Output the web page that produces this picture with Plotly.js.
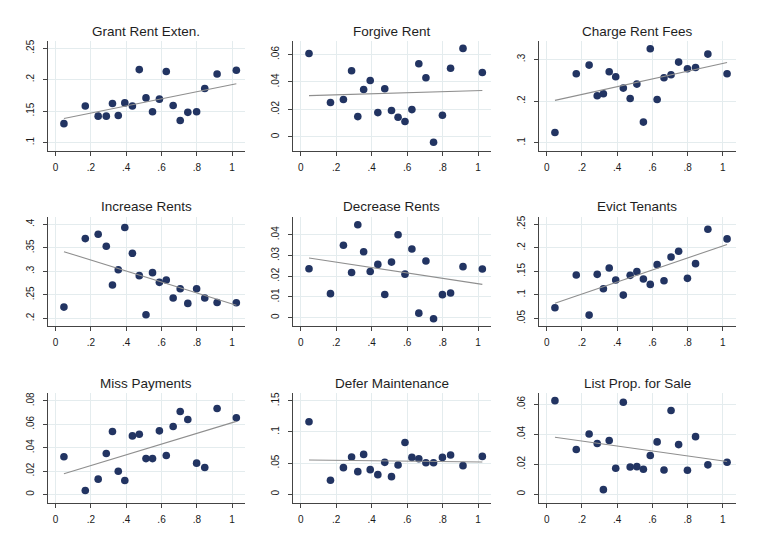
<!DOCTYPE html>
<html>
<head>
<meta charset="utf-8">
<script src="https://cdn.plot.ly/plotly-3.0.1.min.js"></script>
<style>
html,body{margin:0;padding:0;background:#fff;}
#chart{width:762px;height:539px;}
</style>
</head>
<body>
<div id="chart"></div>
<script>
// Shared x values (same for every panel)
const xShare = [0.047,0.168,0.241,0.287,0.322,0.355,0.392,0.435,0.474,0.512,0.549,0.588,0.627,0.666,0.706,0.749,0.799,0.845,0.915,1.024];

// Panel titles
const panelTitles = ["Grant Rent Exten.","Forgive Rent","Charge Rent Fees","Increase Rents","Decrease Rents","Evict Tenants","Miss Payments","Defer Maintenance","List Prop. for Sale"];

// Series values
const grantRentExten   = [0.130,0.158,0.142,0.142,0.162,0.143,0.163,0.158,0.216,0.171,0.149,0.169,0.213,0.159,0.135,0.148,0.149,0.186,0.209,0.215];
const forgiveRent      = [0.0607,0.025,0.0272,0.0481,0.0148,0.0345,0.0411,0.0177,0.035,0.0192,0.0143,0.0112,0.0199,0.0532,0.043,-0.0039,0.0158,0.050,0.0644,0.0469];
const chargeRentFees   = [0.1248,0.2656,0.2864,0.2128,0.2176,0.2704,0.2584,0.2312,0.2064,0.2408,0.1496,0.3256,0.204,0.256,0.2632,0.2936,0.2776,0.2808,0.3128,0.2656];
const increaseRents    = [0.2241,0.3695,0.3787,0.3532,0.2709,0.3035,0.3929,0.3383,0.2908,0.2078,0.2972,0.2766,0.2816,0.2433,0.2631,0.2319,0.2631,0.2433,0.234,0.2333];
const decreaseRents    = [0.0236,0.0116,0.0349,0.0218,0.0448,0.0318,0.0223,0.0257,0.0112,0.0268,0.040,0.021,0.0331,0.0022,0.0273,-0.0005,0.0111,0.0119,0.0246,0.0235];
const evictTenants     = [0.0727,0.1422,0.0571,0.1436,0.1131,0.1571,0.1316,0.0996,0.1415,0.1493,0.1337,0.1223,0.1642,0.1301,0.1805,0.1926,0.1351,0.1663,0.2394,0.2188];
const missPayments     = [0.0322,0.0034,0.0131,0.035,0.0538,0.0199,0.012,0.0501,0.0515,0.0307,0.0307,0.0544,0.0333,0.0581,0.0709,0.0641,0.0268,0.0231,0.0735,0.0655];
const deferMaintenance = [0.1163,0.0224,0.0427,0.0598,0.0363,0.064,0.0395,0.0315,0.0512,0.0283,0.047,0.0832,0.0592,0.0571,0.0507,0.0507,0.0592,0.063,0.0459,0.0608];
const listPropForSale  = [0.0624,0.0298,0.0402,0.0338,0.0031,0.0358,0.0173,0.0613,0.0182,0.0184,0.0167,0.0258,0.0349,0.0162,0.0558,0.0331,0.016,0.0384,0.0196,0.0213];

// Tick labels
const xTickVals = [0,0.2,0.4,0.6,0.8,1];
const xTickText = ["0",".2",".4",".6",".8","1"];
const yTickVals1 = [0.1,0.15,0.2,0.25];   const yTickText1 = [".1",".15",".2",".25"];
const yTickVals2 = [0,0.02,0.04,0.06];    const yTickText2 = ["0",".02",".04",".06"];
const yTickVals3 = [0.1,0.2,0.3];         const yTickText3 = [".1",".2",".3"];
const yTickVals4 = [0.2,0.25,0.3,0.35,0.4]; const yTickText4 = [".2",".25",".3",".35",".4"];
const yTickVals5 = [0,0.01,0.02,0.03,0.04]; const yTickText5 = ["0",".01",".02",".03",".04"];
const yTickVals6 = [0.05,0.1,0.15,0.2,0.25]; const yTickText6 = [".05",".1",".15",".2",".25"];
const yTickVals7 = [0,0.02,0.04,0.06,0.08]; const yTickText7 = ["0",".02",".04",".06",".08"];
const yTickVals8 = [0,0.05,0.1,0.15];     const yTickText8 = ["0",".05",".1",".15"];
const yTickVals9 = [0,0.02,0.04,0.06];    const yTickText9 = ["0",".02",".04",".06"];

const series = [grantRentExten,forgiveRent,chargeRentFees,increaseRents,decreaseRents,evictTenants,missPayments,deferMaintenance,listPropForSale];
const yTicks = [[yTickVals1,yTickText1],[yTickVals2,yTickText2],[yTickVals3,yTickText3],[yTickVals4,yTickText4],[yTickVals5,yTickText5],[yTickVals6,yTickText6],[yTickVals7,yTickText7],[yTickVals8,yTickText8],[yTickVals9,yTickText9]];

// Layout (style only)
const yRanges = [[0.087,0.262],[-0.010,0.070],[0.081,0.345],[0.184,0.416],[-0.004,0.0487],[0.034,0.266],[-0.007,0.087],[-0.0135,0.163],[-0.0056,0.0677]];
const colDomains = [[0.0626,0.3215],[0.3841,0.6444],[0.707,0.9655]];
const rowDomains = [[0.7204,0.9245],[0.3952,0.598],[0.0674,0.2714]];
const titleY = [1-31.7/539, 1-206.7/539, 1-383.3/539];

function ols(x,y){
  const n=x.length; let mx=0,my=0;
  for(let i=0;i<n;i++){mx+=x[i];my+=y[i];}
  mx/=n; my/=n;
  let sxy=0,sxx=0;
  for(let i=0;i<n;i++){sxy+=(x[i]-mx)*(y[i]-my);sxx+=(x[i]-mx)*(x[i]-mx);}
  const b=sxy/sxx; return [my-b*mx,b];
}

const data=[]; const layout={
  width:762,height:539,margin:{l:0,r:0,t:0,b:0},
  paper_bgcolor:"#ffffff",plot_bgcolor:"#ffffff",showlegend:false,
  font:{family:"Liberation Sans, Arial, sans-serif",color:"#222"},
  annotations:[]
};
const xmin=Math.min(...xShare), xmax=Math.max(...xShare);
for(let k=0;k<9;k++){
  const r=Math.floor(k/3), c=k%3, s=(k===0?"":String(k+1));
  const ys=series[k];
  data.push({x:xShare,y:ys,type:"scatter",mode:"markers",xaxis:"x"+s,yaxis:"y"+s,
    marker:{color:"#223462",size:7.6,line:{width:0}},hoverinfo:"skip",cliponaxis:false});
  const [a,b]=ols(xShare,ys);
  data.push({x:[xmin,xmax],y:[a+b*xmin,a+b*xmax],type:"scatter",mode:"lines",xaxis:"x"+s,yaxis:"y"+s,
    line:{color:"#8f8f8f",width:1.1},hoverinfo:"skip"});
  layout["xaxis"+s]={domain:colDomains[c],anchor:"y"+s,range:[-0.045,1.073],
    tickvals:xTickVals,ticktext:xTickText,showgrid:true,gridcolor:"#e4ecee",gridwidth:1,zeroline:false,
    showline:true,linecolor:"#444",linewidth:1,ticks:"outside",ticklen:4,tickcolor:"#444",
    ticklabelstandoff:3,
    tickfont:{size:10,color:"#1a1a1a"},fixedrange:true};
  layout["yaxis"+s]={domain:rowDomains[r],anchor:"x"+s,range:yRanges[k],
    tickvals:yTicks[k][0],ticktext:yTicks[k][1],tickangle:-90,showgrid:true,gridcolor:"#e4ecee",gridwidth:1,zeroline:false,
    showline:true,linecolor:"#444",linewidth:1,ticks:"outside",ticklen:4,tickcolor:"#444",
    ticklabelstandoff:5,
    tickfont:{size:10,color:"#1a1a1a"},fixedrange:true};
  layout.annotations.push({text:panelTitles[k],xref:"paper",yref:"paper",
    x:(colDomains[c][0]+colDomains[c][1])/2,y:titleY[r],xanchor:"center",yanchor:"middle",
    showarrow:false,font:{size:13.5,color:"#1e1e1e",family:"Liberation Sans, Arial, sans-serif"}});
}
Plotly.newPlot("chart",data,layout,{displayModeBar:false,staticPlot:true});
</script>
</body>
</html>
